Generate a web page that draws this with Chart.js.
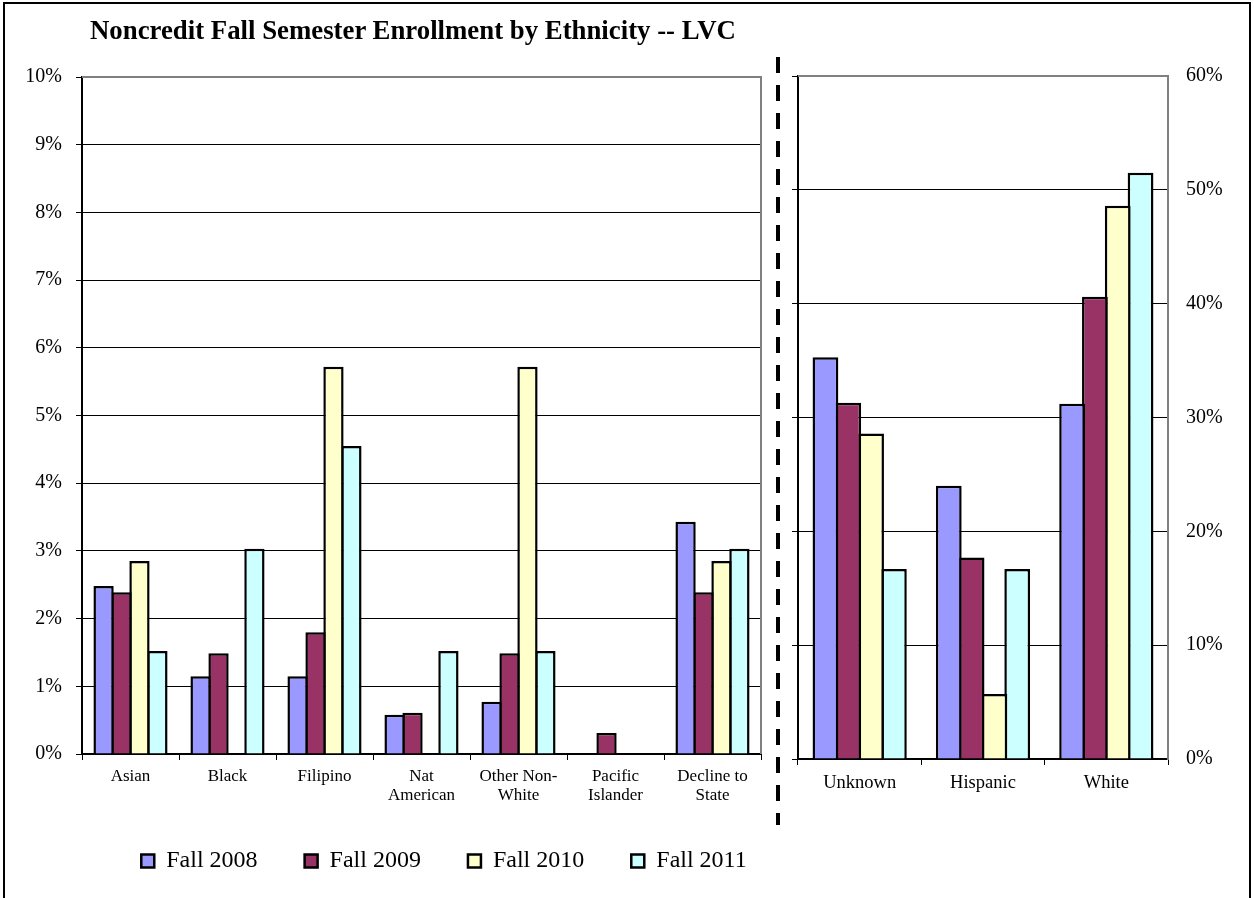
<!DOCTYPE html>
<html>
<head>
<meta charset="utf-8">
<script src="https://cdn.jsdelivr.net/npm/chart.js@4.4.0/dist/chart.umd.min.js"></script>
<style>
  html, body { margin: 0; background: #fff; overflow: hidden; width: 1254px; height: 898px; }
  #frame { position: absolute; left: 3px; top: 2px; width: 1248px; height: 930px; border: 2px solid #000; box-sizing: border-box; }
  #title { position: absolute; left: 90px; top: 17px; font: bold 26.8px "Liberation Serif", serif; line-height: 1; white-space: nowrap; color: #000; }
  #left { position: absolute; left: 0; top: 0; }
  #right { position: absolute; left: 781px; top: 0; }
</style>
</head>
<body>
<div id="frame"></div>
<canvas id="left" width="888" height="898"></canvas>
<canvas id="right" width="473" height="898"></canvas>
<div id="title">Noncredit Fall Semester Enrollment by Ethnicity -- LVC</div>
<script>
const seriesNames = ["Fall 2008", "Fall 2009", "Fall 2010", "Fall 2011"];
const seriesColors = ["#9999FF", "#993366", "#FFFFCC", "#CCFFFF"];

// smaller groups, left axis 0-10%
const smallGroups = [["Asian"], ["Black"], ["Filipino"], ["Nat", "American"], ["Other Non-", "White"], ["Pacific", "Islander"], ["Decline to", "State"]];
const fall2008Small = [2.48, 1.15, 1.15, 0.58, 0.77, 0, 3.43];
const fall2009Small = [2.39, 1.49, 1.80, 0.61, 1.49, 0.31, 2.39];
const fall2010Small = [2.85, 0, 5.72, 0, 5.72, 0, 2.85];
const fall2011Small = [1.52, 3.03, 4.55, 1.52, 1.52, 0, 3.03];
const smallMax = 10, smallStep = 1;

// larger groups, right axis 0-60%
const largeGroups = ["Unknown", "Hispanic", "White"];
const fall2008Large = [35.3, 24.0, 31.2];
const fall2009Large = [31.3, 17.7, 40.6];
const fall2010Large = [28.6, 5.7, 48.6];
const fall2011Large = [16.7, 16.7, 51.5];
const largeMax = 60, largeStep = 10;

const serif = "'Liberation Serif', 'Times New Roman', serif";
Chart.defaults.font.family = serif;
Chart.defaults.color = "#000";

function makeDatasets(rows, axisId) {
  return rows.map((data, i) => ({
    label: seriesNames[i],
    data,
    yAxisID: axisId,
    backgroundColor: seriesColors[i],
    borderColor: "#000",
    borderWidth: 2.5,
    categoryPercentage: 0.74,
    barPercentage: 1.13,
  }));
}

// gray plot-area edges on top and right, like the original
const plotFrame = {
  id: "plotFrame",
  afterDraw(chart) {
    const { ctx, chartArea: a } = chart;
    ctx.save();
    ctx.strokeStyle = "#808080";
    ctx.lineWidth = 2;
    ctx.beginPath();
    ctx.moveTo(a.left, a.top);
    ctx.lineTo(a.right, a.top);
    ctx.lineTo(a.right, a.bottom);
    ctx.stroke();
    ctx.restore();
  }
};

// dashed divider between the two panels
const divider = {
  id: "divider",
  afterDraw(chart) {
    const { ctx, chartArea: a } = chart;
    const x = a.right + 17;
    ctx.save();
    ctx.strokeStyle = "#000";
    ctx.lineWidth = 4;
    ctx.setLineDash([16, 12]);
    ctx.beginPath();
    ctx.moveTo(x, 57);
    ctx.lineTo(x, 825);
    ctx.stroke();
    ctx.restore();
  }
};

new Chart(document.getElementById("left"), {
  type: "bar",
  data: {
    labels: smallGroups,
    datasets: makeDatasets([fall2008Small, fall2009Small, fall2010Small, fall2011Small], "y"),
  },
  options: {
    responsive: false,
    animation: false,
    devicePixelRatio: 1,
    layout: { padding: { top: 77, right: 0, bottom: 15, left: 0 } },
    plugins: {
      tooltip: { enabled: false },
      legend: {
        position: "bottom",
        labels: {
          color: "#000",
          font: { family: serif, size: 24 },
          boxWidth: 13,
          boxHeight: 13,
          padding: 47,
        },
      },
    },
    scales: {
      x: {
        grid: { drawOnChartArea: false, color: "#000", tickLength: 6 },
        border: { color: "#000", width: 2 },
        ticks: { color: "#000", font: { family: serif, size: 17, lineHeight: 1.12 }, padding: 7, maxRotation: 0 },
        afterFit(s) { s.height = 48; },
      },
      y: {
        min: 0,
        max: smallMax,
        grid: { color: "#000", lineWidth: 1, tickLength: 6 },
        border: { color: "#000", width: 2 },
        ticks: { stepSize: smallStep, color: "#000", font: { family: serif, size: 20 }, padding: 14, callback: v => v + "%" },
        afterFit(s) { s.width = 82; },
      },
      // empty spacer on the right so the legend centres under both panels
      spacer: {
        type: "linear",
        position: "right",
        display: true,
        grid: { display: false },
        border: { display: false },
        ticks: { display: false },
        afterFit(s) { s.width = 127; },
      },
    },
  },
  plugins: [plotFrame, divider],
});

new Chart(document.getElementById("right"), {
  type: "bar",
  data: {
    labels: largeGroups,
    datasets: makeDatasets([fall2008Large, fall2009Large, fall2010Large, fall2011Large], "y"),
  },
  options: {
    responsive: false,
    animation: false,
    devicePixelRatio: 1,
    layout: { padding: { top: 76, right: 0, bottom: 99, left: 0 } },
    plugins: {
      tooltip: { enabled: false },
      legend: { display: false },
    },
    scales: {
      x: {
        grid: { drawOnChartArea: false, color: "#000", tickLength: 6 },
        border: { color: "#000", width: 2 },
        ticks: { color: "#000", font: { family: serif, size: 18.5 }, padding: 7, maxRotation: 0 },
        afterFit(s) { s.height = 40; },
      },
      y: {
        position: "right",
        min: 0,
        max: largeMax,
        grid: { color: "#000", lineWidth: 1, drawTicks: false },
        border: { color: "#808080", width: 2 },
        ticks: { stepSize: largeStep, color: "#000", font: { family: serif, size: 20 }, padding: 18, callback: v => v + "%" },
        afterFit(s) { s.width = 86; },
      },
      y2: {
        position: "left",
        min: 0,
        max: largeMax,
        grid: { drawOnChartArea: false, color: "#000", tickLength: 6 },
        border: { color: "#000", width: 2 },
        ticks: { stepSize: largeStep, display: false },
        afterFit(s) { s.width = 17; },
      },
    },
  },
  plugins: [plotFrame],
});
</script>
</body>
</html>
